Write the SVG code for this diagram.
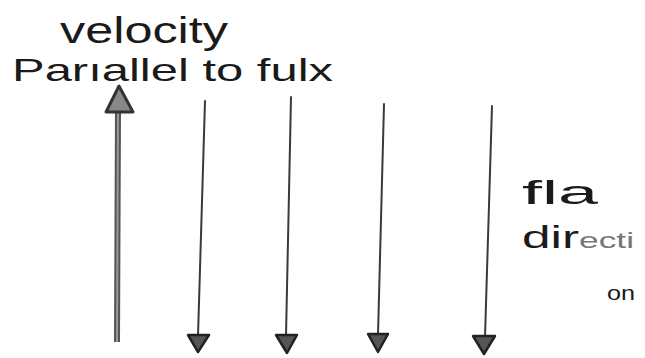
<svg xmlns="http://www.w3.org/2000/svg" width="645" height="358" viewBox="0 0 645 358">
<style>
.t{font-family:"Liberation Sans","DejaVu Sans",sans-serif;fill:#1a1a1a}
.ln{stroke:#3a3a3a;stroke-width:2;fill:none;stroke-linecap:round}
.hd{fill:#555;stroke:#222;stroke-width:2.5;stroke-linejoin:round}
</style>
<rect width="645" height="358" fill="#fff"/>
<g id="label-velocity">
<text class="t" x="60" y="43" font-size="36" textLength="168" lengthAdjust="spacingAndGlyphs">velocity</text>
<text class="t" x="12" y="81" font-size="32" textLength="321" lengthAdjust="spacingAndGlyphs">Parıallel to fulx</text>
</g>
<g id="label-flow">
<text class="t" x="522" y="204" font-size="34" textLength="76" lengthAdjust="spacingAndGlyphs">fla</text>
<text class="t" x="522" y="248" font-size="32" textLength="112" lengthAdjust="spacingAndGlyphs">dir<tspan font-size="22" fill="#777">ecti</tspan></text>
<text class="t" x="607" y="300" font-size="20" fill="#666" textLength="28" lengthAdjust="spacingAndGlyphs">on</text>
</g>
<g id="connectors">
<g id="up-arrow">
<line x1="118" y1="110" x2="117" y2="342" stroke="#555" stroke-width="6" stroke-linecap="butt"/>
<line x1="118" y1="110" x2="117" y2="342" stroke="#999" stroke-width="2"/>
<path d="M119 86 L106 112 L133 112 Z" fill="#888" stroke="#333" stroke-width="3" stroke-linejoin="round"/>
</g>
<g id="down-1">
<line class="ln" x1="205" y1="101" x2="198" y2="336"/>
<path class="hd" d="M188 335 L209 335 L198 352 Z"/>
</g>
<g id="down-2">
<line class="ln" x1="291" y1="97" x2="286" y2="336"/>
<path class="hd" d="M276 335 L297 335 L287 353 Z"/>
</g>
<g id="down-3">
<line class="ln" x1="384" y1="104" x2="378" y2="335"/>
<path class="hd" d="M368 334 L388 334 L378 352 Z"/>
</g>
<g id="down-4">
<line class="ln" x1="492" y1="106" x2="485" y2="337"/>
<path class="hd" d="M473 336 L495 336 L484 354 Z"/>
</g>
</g>
</svg>
